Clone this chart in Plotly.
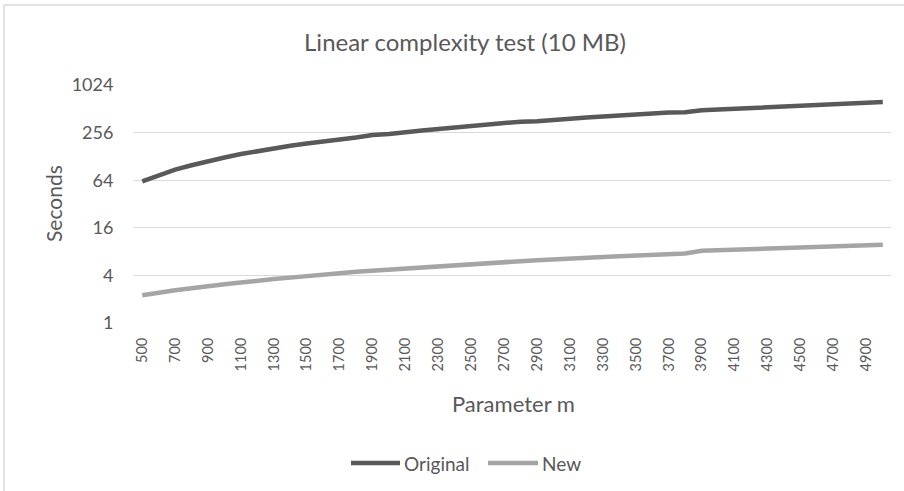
import plotly.graph_objects as go

m_values = [500, 600, 700, 800, 900, 1000, 1100, 1200, 1300, 1400, 1500, 1600, 1700, 1800, 1900,
            2000, 2100, 2200, 2300, 2400, 2500, 2600, 2700, 2800, 2900, 3000, 3100, 3200, 3300,
            3400, 3500, 3600, 3700, 3800, 3900, 4000, 4100, 4200, 4300, 4400, 4500, 4600, 4700,
            4800, 4900, 5000]

original = [62, 74, 87, 99, 112, 124, 137, 150, 160, 175, 186, 200, 210, 222, 238,
            245, 262, 272, 285, 298, 310, 322, 335, 352, 356, 375, 384, 398, 410,
            421, 438, 446, 460, 462, 490, 500, 512, 524, 535, 556, 558, 580, 585,
            596, 610, 625]

new = [2.25, 2.45, 2.6, 2.75, 2.95, 3.1, 3.25, 3.45, 3.6, 3.75, 3.95, 4.1, 4.25, 4.45, 4.6,
       4.75, 4.95, 5.1, 5.25, 5.4, 5.55, 5.75, 5.9, 6.05, 6.2, 6.4, 6.55, 6.7, 6.85,
       7.0, 7.15, 7.3, 7.45, 7.55, 8.2, 8.35, 8.5, 8.65, 8.8, 8.9, 9.05, 9.15, 9.3,
       9.45, 9.6, 9.75]

series_names = ["Original", "New"]
series_colors = ["#595959", "#a5a5a5"]

y_ticks = [1, 4, 16, 64, 256, 1024]
x_tick_labels = [str(v) for v in m_values[::2]]

categories = [str(v) for v in m_values]

FONT = "Lato, 'Open Sans', sans-serif"
TXT = "#595959"
GRID = "#d9d9d9"

W, H = 904, 491
L, R, T, B = 134, 13, 85, 168
pw = W - L - R
ph = H - T - B


def px_x(x):
    return (x - L) / pw


def px_y(y):
    return (H - B - y) / ph


fig = go.Figure()
for name, vals, col in zip(series_names, [original, new], series_colors):
    fig.add_trace(go.Scatter(x=categories, y=vals, name=name, mode="lines",
                             line=dict(color=col, width=4.5), showlegend=False))

# legend drawn as shapes + text (Excel-like long legend keys)
legend_items = [(351, 400, 402), (488, 538, 540)]
leg_shapes = []
leg_annots = []
for (x0, x1, xt), name, col in zip(legend_items, series_names, series_colors):
    leg_shapes.append(dict(type="line", xref="paper", yref="paper",
                           x0=px_x(x0), x1=px_x(x1), y0=px_y(463), y1=px_y(463),
                           line=dict(color=col, width=4.5)))
    leg_annots.append(dict(text=name, x=px_x(xt), y=px_y(463), xref="paper", yref="paper",
                           showarrow=False, xanchor="left", yanchor="middle",
                           font=dict(size=19, color=TXT)))

fig.update_layout(
    width=W, height=H,
    margin=dict(l=L, r=R, t=T, b=B),
    paper_bgcolor="white", plot_bgcolor="white",
    font=dict(family=FONT, color=TXT, size=14),
    title=dict(text="Linear complexity test (10 MB)", x=465 / W, xref="container",
               y=1 - 43 / H, yref="container", xanchor="center", yanchor="middle",
               font=dict(size=24, color=TXT, family=FONT)),
    showlegend=False,
    xaxis=dict(type="category", range=[-0.5, len(categories) - 0.5],
               tickmode="array", tickvals=categories[::2], ticktext=x_tick_labels,
               tickangle=-90, showgrid=False, zeroline=False, showline=False,
               ticks="outside", ticklen=8, tickcolor="rgba(0,0,0,0)",
               tickfont=dict(size=14.5, color=TXT)),
    yaxis=dict(type="log", range=[0, 3.0103], tickmode="array", tickvals=y_ticks,
               ticktext=[str(v) for v in y_ticks], showgrid=True, gridcolor=GRID, gridwidth=1.3,
               zeroline=False, showline=False, ticks="outside", ticklen=16,
               tickcolor="rgba(0,0,0,0)", tickfont=dict(size=18, color=TXT)),
    annotations=[
        dict(text="Seconds", x=px_x(53), y=px_y(204), xref="paper", yref="paper",
             textangle=-90, showarrow=False, font=dict(size=21, color=TXT),
             xanchor="center", yanchor="middle"),
        dict(text="Parameter m", x=px_x(513), y=px_y(403), xref="paper", yref="paper",
             showarrow=False, font=dict(size=22, color=TXT),
             xanchor="center", yanchor="middle"),
    ] + leg_annots,
    shapes=[
        dict(type="line", xref="paper", yref="paper", x0=px_x(4), x1=px_x(910),
             y0=px_y(5), y1=px_y(5), line=dict(color=GRID, width=1.5)),
        dict(type="line", xref="paper", yref="paper", x0=px_x(4), x1=px_x(4),
             y0=px_y(5), y1=px_y(500), line=dict(color=GRID, width=1.5)),
    ] + leg_shapes,
)

fig.write_html("out.html", config={"displayModeBar": False},
               post_script="document.body.style.margin='0';"
                           "document.documentElement.style.overflow='hidden';")
